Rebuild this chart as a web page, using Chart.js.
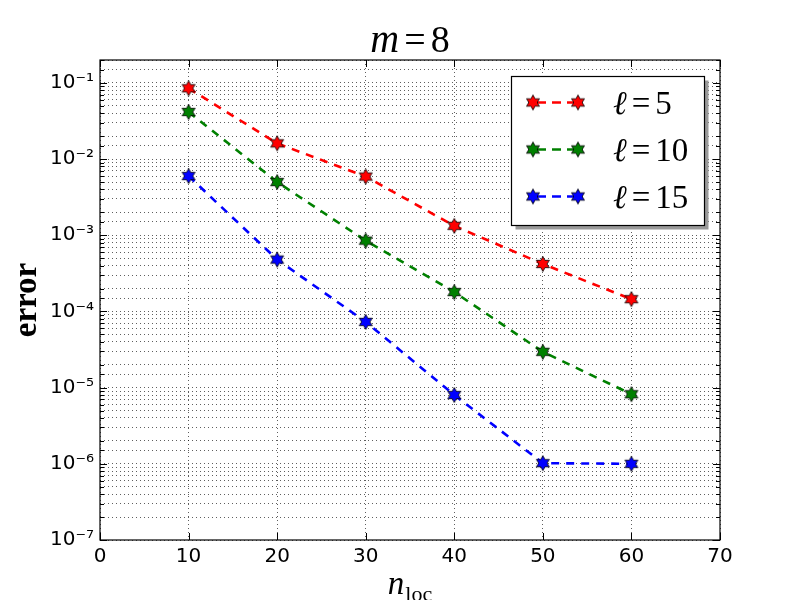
<!DOCTYPE html>
<html>
<head>
<meta charset="utf-8">
<script src="https://cdn.jsdelivr.net/npm/chart.js@4/dist/chart.umd.min.js"></script>
<style>
  html, body { margin: 0; padding: 0; background: #fff; }
  #chart { display: block; }
</style>
</head>
<body>
<canvas id="chart" width="800" height="600"></canvas>
<script>
// data
const nLoc = [10, 20, 30, 40, 50, 60];
const errL5 = [0.085, 0.0161, 0.0059, 0.00133, 4.2e-4, 1.45e-4];
const errL10 = [0.0416, 0.0050, 8.5e-4, 1.8e-4, 2.95e-5, 8.2e-6];
const errL15 = [6.0e-3, 4.8e-4, 7.3e-5, 8.0e-6, 1.02e-6, 1.0e-6];
const seriesLabels = ['5', '10', '15'];
const seriesColors = ['#ff0000', '#008000', '#0000ff'];
const yExponents = [-7, -6, -5, -4, -3, -2, -1];
const xTickStep = 10;

const SUP = { '-': '\u207B', '0': '\u2070', '1': '\u00B9', '2': '\u00B2', '3': '\u00B3',
              '4': '\u2074', '5': '\u2075', '6': '\u2076', '7': '\u2077', '8': '\u2078', '9': '\u2079' };
function sup(n) {
    return String(n).split('').map(c => SUP[c]).join('');
}

// filled six-point star with black edge
function makeStar(color) {
    const c = document.createElement('canvas');
    c.width = 18; c.height = 18;
    const g = c.getContext('2d');
    g.beginPath();
    for (let i = 0; i < 12; i++) {
        const r = i % 2 === 0 ? 7.5 : 4.2;
        const a = -Math.PI / 2 + i * Math.PI / 6;
        const px = 9 + r * Math.cos(a), py = 9 + r * Math.sin(a);
        if (i === 0) g.moveTo(px, py); else g.lineTo(px, py);
    }
    g.closePath();
    g.fillStyle = color;
    g.fill();
    g.lineWidth = 0.8;
    g.strokeStyle = '#000';
    g.stroke();
    return c;
}

const seriesValues = [errL5, errL10, errL15];
const stars = seriesColors.map(makeStar);

const datasets = seriesValues.map((vals, i) => ({
    label: seriesLabels[i],
    data: nLoc.map((x, j) => ({ x: x, y: vals[j] })),
    borderColor: seriesColors[i],
    backgroundColor: seriesColors[i],
    borderWidth: 2.6,
    borderDash: [8, 7],
    pointStyle: stars[i],
    pointRadius: 7,
    tension: 0
}));

// draw text made of runs with their own fonts / offsets
function drawRuns(ctx, runs, x, y, align) {
    let total = 0;
    runs.forEach(r => { ctx.font = r.font; r.w = ctx.measureText(r.t).width; total += r.w + (r.gap || 0); });
    let cx = align === 'center' ? x - total / 2 : x;
    ctx.textAlign = 'left';
    ctx.textBaseline = 'alphabetic';
    runs.forEach(r => {
        ctx.font = r.font;
        ctx.fillText(r.t, cx, y + (r.dy || 0));
        cx += r.w + (r.gap || 0);
    });
}

const decorations = {
    id: 'decorations',
    afterDraw(chart) {
        const ctx = chart.ctx;
        const a = chart.chartArea;
        const xs = chart.scales.x, ys = chart.scales.y;
        ctx.save();
        ctx.fillStyle = '#000';
        ctx.strokeStyle = '#000';

        // frame
        ctx.lineWidth = 1.2;
        ctx.strokeRect(a.left, a.top, a.right - a.left, a.bottom - a.top);

        // inward tick marks
        ctx.lineWidth = 1;
        ctx.beginPath();
        xs.ticks.forEach(t => {
            const px = Math.round(xs.getPixelForValue(t.value)) + 0.5;
            ctx.moveTo(px, a.bottom); ctx.lineTo(px, a.bottom - 7);
            ctx.moveTo(px, a.top); ctx.lineTo(px, a.top + 7);
        });
        ys.ticks.forEach(t => {
            const e = Math.log10(t.value);
            const len = Math.abs(e - Math.round(e)) < 1e-9 ? 7 : 4;
            const py = Math.round(ys.getPixelForValue(t.value)) + 0.5;
            ctx.moveTo(a.left, py); ctx.lineTo(a.left + len, py);
            ctx.moveTo(a.right, py); ctx.lineTo(a.right - len, py);
        });
        ctx.stroke();

        // title
        drawRuns(ctx, [
            { t: 'm', font: 'italic 40px "Liberation Serif"', gap: 5 },
            { t: '=', font: '38px "Liberation Serif"', gap: 5 },
            { t: '8', font: '38px "Liberation Serif"' }
        ], (a.left + a.right) / 2, 52, 'center');

        // x axis label
        drawRuns(ctx, [
            { t: 'n', font: 'italic 33px "Liberation Serif"', gap: 1 },
            { t: 'loc', font: '22px "Liberation Serif"', dy: 7 }
        ], (a.left + a.right) / 2, 594, 'center');

        // y axis label
        ctx.save();
        ctx.translate(36, (a.top + a.bottom) / 2);
        ctx.rotate(-Math.PI / 2);
        ctx.font = 'bold 33px "Liberation Serif"';
        ctx.textAlign = 'center';
        ctx.textBaseline = 'alphabetic';
        ctx.fillText('error', 0, 0);
        ctx.restore();

        // legend
        const lx = 511.5, ly = 76.5, lw = 193, lh = 149;
        ctx.fillStyle = '#999';
        ctx.fillRect(lx + 4, ly + 4, lw, lh);
        ctx.fillStyle = '#fff';
        ctx.fillRect(lx, ly, lw, lh);
        ctx.lineWidth = 1.2;
        ctx.strokeRect(lx, ly, lw, lh);
        chart.data.datasets.forEach((ds, i) => {
            const cy = 102.5 + i * 47;
            ctx.save();
            ctx.strokeStyle = ds.borderColor;
            ctx.lineWidth = ds.borderWidth;
            ctx.setLineDash([9, 6]);
            ctx.lineDashOffset = -4;
            ctx.beginPath();
            ctx.moveTo(533, cy); ctx.lineTo(578, cy);
            ctx.stroke();
            ctx.restore();
            const img = ds.pointStyle;
            ctx.drawImage(img, 533 - img.width / 2, cy - img.height / 2);
            ctx.drawImage(img, 578 - img.width / 2, cy - img.height / 2);
            ctx.fillStyle = '#000';
            drawRuns(ctx, [
                { t: '\u2113', font: 'italic 33px "Liberation Serif"', gap: 5 },
                { t: '=', font: '33px "Liberation Serif"', gap: 5 },
                { t: ds.label, font: '33px "Liberation Serif"' }
            ], 613, cy + 11, 'left');
        });

        ctx.restore();
    }
};

new Chart(document.getElementById('chart'), {
    type: 'line',
    data: { datasets: datasets },
    plugins: [decorations],
    options: {
        responsive: false,
        animation: false,
        layout: { padding: { top: 60, right: 80, left: 0, bottom: 0 } },
        plugins: {
            legend: { display: false },
            title: { display: false },
            tooltip: { enabled: false }
        },
        scales: {
            x: {
                type: 'linear',
                min: 0,
                max: 70,
                afterFit: s => { s.height = 60; },
                ticks: {
                    stepSize: xTickStep,
                    color: '#000',
                    padding: 5,
                    font: { family: '"DejaVu Sans"', size: 20 }
                },
                grid: { color: 'rgba(0,0,0,0.9)', lineWidth: 0.7, drawTicks: false },
                border: { display: false, dash: [1, 3] }
            },
            y: {
                type: 'logarithmic',
                min: 1e-7,
                max: 0.2,
                afterFit: s => { s.width = 100; },
                ticks: {
                    autoSkip: false,
                    color: '#000',
                    padding: 6,
                    font: { family: '"DejaVu Sans"', size: 20 },
                    callback: function (v) {
                        const e = Math.round(Math.log10(v));
                        if (Math.abs(Math.log10(v) - e) < 1e-9 && yExponents.includes(e)) {
                            return '10' + sup(e);
                        }
                        return '';
                    }
                },
                grid: { color: 'rgba(0,0,0,0.9)', lineWidth: 0.7, drawTicks: false },
                border: { display: false, dash: [1, 3] }
            }
        }
    }
});
</script>
</body>
</html>
